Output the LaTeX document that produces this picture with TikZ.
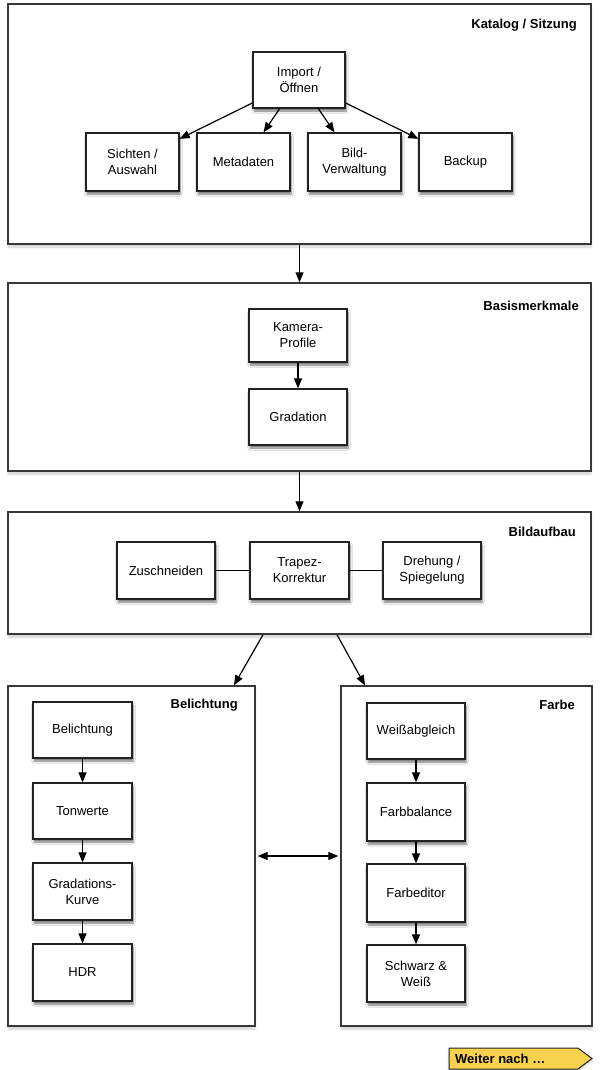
\documentclass[tikz,border=0pt]{standalone}
\usepackage{fontspec}
\setmainfont{Liberation Sans}
\usetikzlibrary{arrows.meta,shadows.blur,calc}
\definecolor{edge}{HTML}{222222}
\definecolor{weiter}{HTML}{F8D24C}
\tikzset{
  box/.style={draw=edge, line width=1.3pt, fill=white, align=center, inner sep=0pt,
    minimum width=98pt, minimum height=56pt, font=\fontsize{13}{16}\selectfont,
    blur shadow={shadow xshift=1pt, shadow yshift=-3pt, shadow opacity=55, shadow blur steps=6}},
  sec/.style={draw=edge!90, line width=1.4pt, fill=white, inner sep=0pt,
    blur shadow={shadow xshift=0pt, shadow yshift=-3pt, shadow opacity=18, shadow blur steps=6}},
  ttl/.style={font=\fontsize{13}{16}\selectfont\bfseries, anchor=east, inner sep=0pt},
  arr/.style={-{Triangle[length=10pt,width=8pt]}, line width=1.2pt, draw=black},
  dbl/.style={{Triangle[length=10pt,width=8pt]}-{Triangle[length=10pt,width=8pt]}, line width=1.2pt, draw=black},
  lnk/.style={line width=1.2pt, draw=black},
}
\begin{document}
\begin{tikzpicture}[x=1pt,y=-1pt]
\useasboundingbox (0,0) rectangle (600,1070);
% sections
\node[sec, minimum width=583pt, minimum height=240pt] (s1) at (299.5,124) {};
\node[sec, minimum width=583pt, minimum height=188pt] (s2) at (299.5,377) {};
\node[sec, minimum width=583pt, minimum height=122pt] (s3) at (299.5,573) {};
\node[sec, minimum width=247pt, minimum height=340pt] (s4) at (131.5,856) {};
\node[sec, minimum width=251pt, minimum height=340pt] (s5) at (466.5,856) {};
% titles
\node[ttl] (t1) at (577,25) {Katalog / Sitzung};
\node[ttl] (t2) at (579,306) {Basismerkmale};
\node[ttl] (t3) at (576,532) {Bildaufbau};
\node[ttl] (t4) at (238,705) {Belichtung};
\node[ttl] (t5) at (575,705) {Farbe};
% Katalog
\node[box, minimum width=92pt] (imp) at (299,80) {Import /\\Öffnen};
\node[box, minimum width=93pt, minimum height=58pt] (sich) at (132.5,162) {Sichten /\\Auswahl};
\node[box, minimum width=93pt, minimum height=58pt] (meta) at (243.5,162) {Metadaten};
\node[box, minimum width=93pt, minimum height=58pt] (bild) at (354.5,162) {Bild-\\Verwaltung};
\node[box, minimum width=93pt, minimum height=58pt] (back) at (465.5,162) {Backup};
% Basismerkmale
\node[box, minimum height=53pt] (kam) at (298,335.5) {Kamera-\\Profile};
\node[box] (grad) at (298,417) {Gradation};
% Bildaufbau
\node[box, minimum height=57pt] (zus) at (166,570.5) {Zuschneiden};
\node[box, minimum width=99pt, minimum height=57pt] (tra) at (299.5,570.5) {Trapez-\\Korrektur};
\node[box, minimum height=57pt] (dre) at (432,570.5) {Drehung /\\Spiegelung};
% Belichtung
\node[box, minimum width=99pt] (bel) at (82.5,730) {Belichtung};
\node[box, minimum width=99pt] (ton) at (82.5,811) {Tonwerte};
\node[box, minimum width=99pt, minimum height=57pt] (gk) at (82.5,891.5) {Gradations-\\Kurve};
\node[box, minimum width=99pt, minimum height=57pt] (hdr) at (82.5,972.5) {HDR};
% Farbe
\node[box] (wei) at (416,731) {Weißabgleich};
\node[box, minimum height=58pt] (fb) at (416,812) {Farbbalance};
\node[box, minimum height=58pt] (fe) at (416,893) {Farbeditor};
\node[box, minimum height=57pt] (sw) at (416,973.5) {Schwarz \&\\Weiß};
% connectors
\draw[arr] (imp) -- (sich);
\draw[arr] (imp) -- (meta);
\draw[arr] (imp) -- (bild);
\draw[arr] (imp) -- (back);
\draw[arr] (s1.south) -- (s2.north);
\draw[arr] (kam) -- (grad);
\draw[arr] (s2.south) -- (s3.north);
\draw[lnk] (zus) -- (tra);
\draw[lnk] (tra) -- (dre);
\draw[arr] (s3.south -| 263,0) -- (s4.north -| 234,0);
\draw[arr] (s3.south -| 337,0) -- (s5.north -| 365,0);
\draw[dbl, shorten <=2pt, shorten >=2pt] (s4.east) -- (s5.west);
\draw[arr] (bel) -- (ton);
\draw[arr] (ton) -- (gk);
\draw[arr] (gk) -- (hdr);
\draw[arr] (wei) -- (fb);
\draw[arr] (fb) -- (fe);
\draw[arr] (fe) -- (sw);
% Weiter nach
\filldraw[fill=weiter, draw=edge, line width=1pt,
  blur shadow={shadow xshift=0pt, shadow yshift=-2pt, shadow opacity=20, shadow blur steps=4}]
  (449,1048) -- (578,1048) -- (592,1058.5) -- (578,1069) -- (449,1069) -- cycle;
\node[anchor=west, inner sep=0pt, font=\fontsize{13}{16}\selectfont\bfseries] (wn) at (455,1058.5) {Weiter nach …};
\end{tikzpicture}
\end{document}
